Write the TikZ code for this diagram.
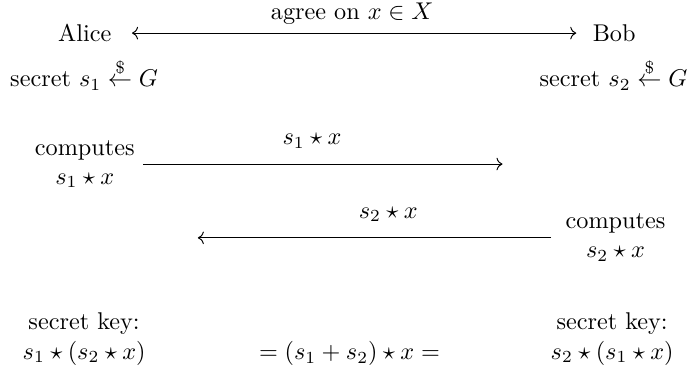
\documentclass[tikz,border=0pt]{standalone}
\usepackage{amsmath}
\usetikzlibrary{arrows.meta, calc}
\tikzset{
    party/.style ={align=center, inner sep=3.33pt},
    msg/.style   ={->, line width=0.4pt},
    lbl/.style   ={inner sep=3.33pt},
}

\begin{document}
\begin{tikzpicture}[x=1cm, y=1cm]
\useasboundingbox (0,0) rectangle (10.01,-5.36);

% ===================== Parties and common setup =====================
\node[party] (alice) at (1.23,-0.48) {Alice};
\node[party] (bob)   at (8.91,-0.48) {Bob};
\draw[<->, shorten <=5pt, shorten >=3.3pt] (alice.east) -- (bob.west)
      node[midway, above=0pt, lbl] {agree on $x \in X$};

% ===================== Secrets =====================
\node[party, anchor=base] (sec1) at (1.22,-1.26) {secret $s_1 \stackrel{\$}{\leftarrow} G$};
\node[party, anchor=base] (sec2) at (8.90,-1.26) {secret $s_2 \stackrel{\$}{\leftarrow} G$};

% ===================== Exchange =====================
\node[party] (comp1) at (1.23,-2.38) {computes\\$s_1 \star x$};
\coordinate (end1) at (7.29,-2.38);
\draw[msg] (comp1.east) -- (end1)
      node[pos=0.47, above=3pt, lbl] {$s_1 \star x$};

\node[party] (comp2) at (8.93,-3.45) {computes\\$s_2 \star x$};
\coordinate (end2) at (2.87,-3.45);
\draw[msg, shorten <=2.5pt] (comp2.west) -- (end2)
      node[pos=0.47, above=3pt, lbl] {$s_2 \star x$};

% ===================== Shared key =====================
\node[party] (key1) at (1.22,-4.92) {secret key:\\$s_1 \star (s_2 \star x)$};
\node[party] (key2) at (8.88,-4.92) {secret key:\\$s_2 \star (s_1 \star x)$};
\node[party, anchor=base] (eq) at (5.07,-5.22) {$= (s_1 + s_2) \star x =$};

\end{tikzpicture}
\end{document}
